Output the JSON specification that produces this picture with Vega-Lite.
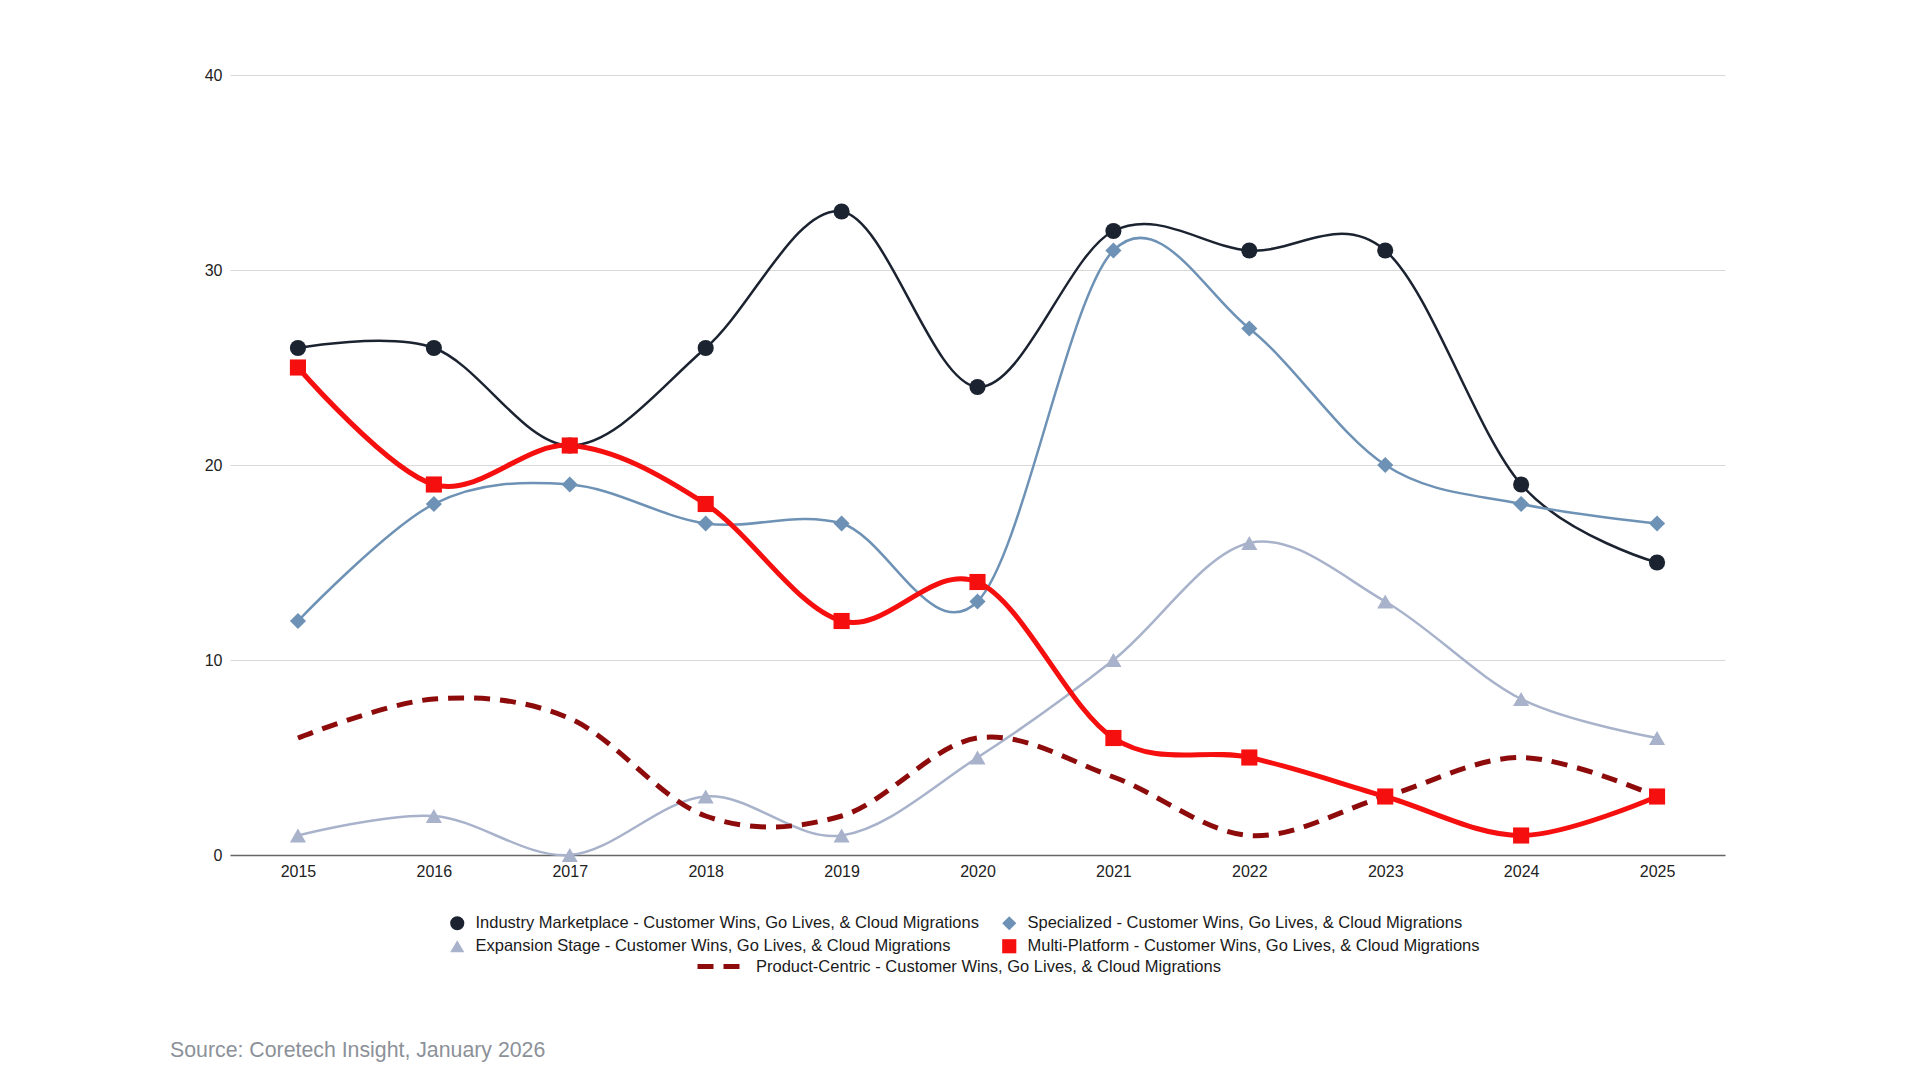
{
  "$schema": "https://vega.github.io/schema/vega-lite/v6.json",
  "width": 1495,
  "height": 780,
  "autosize": {"type": "none"},
  "padding": {"left": 230, "top": 75, "right": 195, "bottom": 225},
  "background": "white",
  "config": {
    "font": "Liberation Sans",
    "view": {"stroke": null},
    "legend": {"labelFont": "Liberation Sans", "labelColor": "#1a1a1a"}
  },
  "title": {
    "text": "Source: Coretech Insight, January 2026",
    "orient": "bottom",
    "anchor": "start",
    "frame": "group",
    "offset": 63,
    "dx": -60,
    "fontSize": 21.3,
    "fontWeight": "normal",
    "color": "#8c9199",
    "font": "Liberation Sans"
  },
  "data": {
    "values": [
      {"series": "Industry Marketplace - Customer Wins, Go Lives, & Cloud Migrations", "year": "2015", "value": 26},
      {"series": "Industry Marketplace - Customer Wins, Go Lives, & Cloud Migrations", "year": "2016", "value": 26},
      {"series": "Industry Marketplace - Customer Wins, Go Lives, & Cloud Migrations", "year": "2017", "value": 21},
      {"series": "Industry Marketplace - Customer Wins, Go Lives, & Cloud Migrations", "year": "2018", "value": 26},
      {"series": "Industry Marketplace - Customer Wins, Go Lives, & Cloud Migrations", "year": "2019", "value": 33},
      {"series": "Industry Marketplace - Customer Wins, Go Lives, & Cloud Migrations", "year": "2020", "value": 24},
      {"series": "Industry Marketplace - Customer Wins, Go Lives, & Cloud Migrations", "year": "2021", "value": 32},
      {"series": "Industry Marketplace - Customer Wins, Go Lives, & Cloud Migrations", "year": "2022", "value": 31},
      {"series": "Industry Marketplace - Customer Wins, Go Lives, & Cloud Migrations", "year": "2023", "value": 31},
      {"series": "Industry Marketplace - Customer Wins, Go Lives, & Cloud Migrations", "year": "2024", "value": 19},
      {"series": "Industry Marketplace - Customer Wins, Go Lives, & Cloud Migrations", "year": "2025", "value": 15},
      {"series": "Specialized - Customer Wins, Go Lives, & Cloud Migrations", "year": "2015", "value": 12},
      {"series": "Specialized - Customer Wins, Go Lives, & Cloud Migrations", "year": "2016", "value": 18},
      {"series": "Specialized - Customer Wins, Go Lives, & Cloud Migrations", "year": "2017", "value": 19},
      {"series": "Specialized - Customer Wins, Go Lives, & Cloud Migrations", "year": "2018", "value": 17},
      {"series": "Specialized - Customer Wins, Go Lives, & Cloud Migrations", "year": "2019", "value": 17},
      {"series": "Specialized - Customer Wins, Go Lives, & Cloud Migrations", "year": "2020", "value": 13},
      {"series": "Specialized - Customer Wins, Go Lives, & Cloud Migrations", "year": "2021", "value": 31},
      {"series": "Specialized - Customer Wins, Go Lives, & Cloud Migrations", "year": "2022", "value": 27},
      {"series": "Specialized - Customer Wins, Go Lives, & Cloud Migrations", "year": "2023", "value": 20},
      {"series": "Specialized - Customer Wins, Go Lives, & Cloud Migrations", "year": "2024", "value": 18},
      {"series": "Specialized - Customer Wins, Go Lives, & Cloud Migrations", "year": "2025", "value": 17},
      {"series": "Expansion Stage - Customer Wins, Go Lives, & Cloud Migrations", "year": "2015", "value": 1},
      {"series": "Expansion Stage - Customer Wins, Go Lives, & Cloud Migrations", "year": "2016", "value": 2},
      {"series": "Expansion Stage - Customer Wins, Go Lives, & Cloud Migrations", "year": "2017", "value": 0},
      {"series": "Expansion Stage - Customer Wins, Go Lives, & Cloud Migrations", "year": "2018", "value": 3},
      {"series": "Expansion Stage - Customer Wins, Go Lives, & Cloud Migrations", "year": "2019", "value": 1},
      {"series": "Expansion Stage - Customer Wins, Go Lives, & Cloud Migrations", "year": "2020", "value": 5},
      {"series": "Expansion Stage - Customer Wins, Go Lives, & Cloud Migrations", "year": "2021", "value": 10},
      {"series": "Expansion Stage - Customer Wins, Go Lives, & Cloud Migrations", "year": "2022", "value": 16},
      {"series": "Expansion Stage - Customer Wins, Go Lives, & Cloud Migrations", "year": "2023", "value": 13},
      {"series": "Expansion Stage - Customer Wins, Go Lives, & Cloud Migrations", "year": "2024", "value": 8},
      {"series": "Expansion Stage - Customer Wins, Go Lives, & Cloud Migrations", "year": "2025", "value": 6},
      {"series": "Multi-Platform - Customer Wins, Go Lives, & Cloud Migrations", "year": "2015", "value": 25},
      {"series": "Multi-Platform - Customer Wins, Go Lives, & Cloud Migrations", "year": "2016", "value": 19},
      {"series": "Multi-Platform - Customer Wins, Go Lives, & Cloud Migrations", "year": "2017", "value": 21},
      {"series": "Multi-Platform - Customer Wins, Go Lives, & Cloud Migrations", "year": "2018", "value": 18},
      {"series": "Multi-Platform - Customer Wins, Go Lives, & Cloud Migrations", "year": "2019", "value": 12},
      {"series": "Multi-Platform - Customer Wins, Go Lives, & Cloud Migrations", "year": "2020", "value": 14},
      {"series": "Multi-Platform - Customer Wins, Go Lives, & Cloud Migrations", "year": "2021", "value": 6},
      {"series": "Multi-Platform - Customer Wins, Go Lives, & Cloud Migrations", "year": "2022", "value": 5},
      {"series": "Multi-Platform - Customer Wins, Go Lives, & Cloud Migrations", "year": "2023", "value": 3},
      {"series": "Multi-Platform - Customer Wins, Go Lives, & Cloud Migrations", "year": "2024", "value": 1},
      {"series": "Multi-Platform - Customer Wins, Go Lives, & Cloud Migrations", "year": "2025", "value": 3},
      {"series": "Product-Centric - Customer Wins, Go Lives, & Cloud Migrations", "year": "2015", "value": 6},
      {"series": "Product-Centric - Customer Wins, Go Lives, & Cloud Migrations", "year": "2016", "value": 8},
      {"series": "Product-Centric - Customer Wins, Go Lives, & Cloud Migrations", "year": "2017", "value": 7},
      {"series": "Product-Centric - Customer Wins, Go Lives, & Cloud Migrations", "year": "2018", "value": 2},
      {"series": "Product-Centric - Customer Wins, Go Lives, & Cloud Migrations", "year": "2019", "value": 2},
      {"series": "Product-Centric - Customer Wins, Go Lives, & Cloud Migrations", "year": "2020", "value": 6},
      {"series": "Product-Centric - Customer Wins, Go Lives, & Cloud Migrations", "year": "2021", "value": 4},
      {"series": "Product-Centric - Customer Wins, Go Lives, & Cloud Migrations", "year": "2022", "value": 1},
      {"series": "Product-Centric - Customer Wins, Go Lives, & Cloud Migrations", "year": "2023", "value": 3},
      {"series": "Product-Centric - Customer Wins, Go Lives, & Cloud Migrations", "year": "2024", "value": 5},
      {"series": "Product-Centric - Customer Wins, Go Lives, & Cloud Migrations", "year": "2025", "value": 3}
    ]
  },
  "encoding": {
    "x": {
      "field": "year",
      "type": "ordinal",
      "scale": {"type": "point", "padding": 0.5},
      "axis": {
        "title": null,
        "labelAngle": 0,
        "ticks": false,
        "labelPadding": 8,
        "labelFontSize": 16,
        "labelColor": "#222222",
        "labelFont": "Liberation Sans",
        "domainColor": "#666666",
        "domainWidth": 1.5,
        "grid": false
      }
    },
    "y": {
      "field": "value",
      "type": "quantitative",
      "scale": {"domain": [0, 40], "nice": false, "zero": true},
      "axis": {
        "title": null,
        "values": [0, 10, 20, 30, 40],
        "ticks": false,
        "domain": false,
        "labelPadding": 8,
        "labelFontSize": 16,
        "labelColor": "#222222",
        "labelFont": "Liberation Sans",
        "gridColor": "#d9d9d9",
        "gridWidth": 1
      }
    }
  },
  "layer": [
    {
      "transform": [{"filter": {"field": "series", "equal": "Industry Marketplace - Customer Wins, Go Lives, & Cloud Migrations"}}],
      "mark": {"type": "line", "interpolate": "cardinal", "strokeWidth": 2.5, "color": "#1b2331"},
      "encoding": {}
    },
    {
      "transform": [{"filter": {"field": "series", "equal": "Specialized - Customer Wins, Go Lives, & Cloud Migrations"}}],
      "mark": {"type": "line", "interpolate": "cardinal", "strokeWidth": 2.5, "color": "#6e92b5"},
      "encoding": {}
    },
    {
      "transform": [{"filter": {"field": "series", "equal": "Expansion Stage - Customer Wins, Go Lives, & Cloud Migrations"}}],
      "mark": {"type": "line", "interpolate": "cardinal", "strokeWidth": 2.5, "color": "#a8b3cb"},
      "encoding": {}
    },
    {
      "transform": [{"filter": {"field": "series", "equal": "Multi-Platform - Customer Wins, Go Lives, & Cloud Migrations"}}],
      "mark": {"type": "line", "interpolate": "cardinal", "strokeWidth": 5, "color": "#f5100f"},
      "encoding": {}
    },
    {
      "transform": [{"filter": {"field": "series", "equal": "Product-Centric - Customer Wins, Go Lives, & Cloud Migrations"}}],
      "mark": {"type": "line", "interpolate": "cardinal", "strokeWidth": 5, "color": "#8e0b0b"},
      "encoding": {
        "strokeDash": {
          "field": "series",
          "type": "nominal",
          "scale": {
            "domain": ["Product-Centric - Customer Wins, Go Lives, & Cloud Migrations"],
            "range": [[16, 10]]
          },
          "legend": {
            "orient": "none",
            "legendX": 465,
            "legendY": 866,
            "title": null,
            "padding": 0,
            "symbolType": "stroke",
            "symbolSize": 2116,
            "symbolStrokeWidth": 5,
            "symbolStrokeColor": "#8e0b0b",
            "labelFontSize": 16.5,
            "labelOffset": 10,
            "labelLimit": 0
          }
        }
      }
    },
    {
      "transform": [{"filter": {"field": "series", "oneOf": [
        "Industry Marketplace - Customer Wins, Go Lives, & Cloud Migrations",
        "Specialized - Customer Wins, Go Lives, & Cloud Migrations",
        "Expansion Stage - Customer Wins, Go Lives, & Cloud Migrations",
        "Multi-Platform - Customer Wins, Go Lives, & Cloud Migrations"]}}],
      "mark": {"type": "point", "filled": true, "opacity": 1, "size": 260},
      "encoding": {
        "color": {
          "field": "series",
          "type": "nominal",
          "scale": {
            "domain": [
              "Industry Marketplace - Customer Wins, Go Lives, & Cloud Migrations",
              "Expansion Stage - Customer Wins, Go Lives, & Cloud Migrations",
              "Specialized - Customer Wins, Go Lives, & Cloud Migrations",
              "Multi-Platform - Customer Wins, Go Lives, & Cloud Migrations"
            ],
            "range": ["#1b2331", "#a8b3cb", "#6e92b5", "#f5100f"]
          },
          "legend": {
            "orient": "none",
            "legendX": 219,
            "legendY": 840,
            "title": null,
            "padding": 0,
            "columns": 2,
            "gridAlign": "none",
            "columnPadding": 22,
            "rowPadding": 6,
            "symbolSize": 200,
            "labelFontSize": 16.5,
            "labelOffset": 10,
            "labelLimit": 0
          }
        },
        "shape": {
          "field": "series",
          "type": "nominal",
          "scale": {
            "domain": [
              "Industry Marketplace - Customer Wins, Go Lives, & Cloud Migrations",
              "Expansion Stage - Customer Wins, Go Lives, & Cloud Migrations",
              "Specialized - Customer Wins, Go Lives, & Cloud Migrations",
              "Multi-Platform - Customer Wins, Go Lives, & Cloud Migrations"
            ],
            "range": ["circle", "triangle-up", "diamond", "square"]
          },
          "legend": {
            "orient": "none",
            "legendX": 219,
            "legendY": 840,
            "title": null,
            "padding": 0,
            "columns": 2,
            "gridAlign": "none",
            "columnPadding": 22,
            "rowPadding": 6,
            "symbolSize": 200,
            "labelFontSize": 16.5,
            "labelOffset": 10,
            "labelLimit": 0
          }
        }
      }
    }
  ]
}
